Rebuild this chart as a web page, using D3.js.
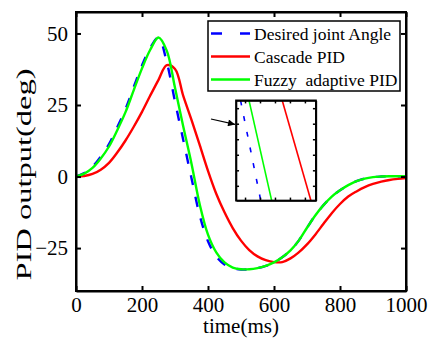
<!DOCTYPE html>
<meta charset="utf-8">
<style>
  body { margin: 0; background: #fff; }
  svg text { font-family: "Liberation Serif", "Times New Roman", serif; fill: #000; }
  .axis path, .axis line { stroke: #000; stroke-width: 2; }
  .inset path, .inset line { stroke: #000; stroke-width: 1.5; }
</style>
<svg width="430" height="343"></svg>
<script src="https://d3js.org/d3.v7.min.js"></script>
<script>

// sample times (ms)
var time = [0, 25, 50, 75, 100, 125, 150, 175, 200, 225, 250, 275, 300, 325, 350, 375, 400,
    425, 450, 475, 500, 525, 550, 575, 600, 625, 650, 675, 700, 725, 750, 775, 800,
    825, 850, 875, 900, 925, 950, 975, 1000];

// desired joint angle (deg)
var desired = [0, 1.2, 3.4, 7.0, 11.3, 17.2, 23.6, 31.3, 38.8, 45.0, 48.6, 40.0, 26.2, 12.8, -0.6, -13.6, -22.6,
    -27.9, -30.7, -32.0, -32.5, -32.4, -32.0, -31.2, -30.0, -28.2, -25.8, -22.4, -17.9, -13.6, -10.0, -7.0, -4.8,
    -3.0, -1.6, -0.7, -0.2, 0.0, 0.1, 0.1, 0.1];

// cascade PID output (deg)
var cascade = [0, 0.2, 0.9, 2.4, 4.8, 8.4, 12.6, 17.4, 22.6, 28.3, 33.8, 38.9, 37.6, 28.2, 19.8, 11.0, 2.0,
    -6.0, -12.5, -18.0, -22.4, -25.7, -27.9, -29.2, -29.9, -29.9, -28.6, -26.5, -23.7, -20.3, -16.5, -12.8, -9.6,
    -7.0, -5.2, -3.7, -2.6, -1.8, -1.2, -0.8, -0.5];

// fuzzy adaptive PID output (deg)
var fuzzy = [0, 1.0, 3.0, 6.3, 10.5, 16.2, 22.5, 30.2, 37.8, 44.3, 48.6, 44.0, 31.0, 17.5, 4.5, -9.8, -20.3,
    -26.5, -30.0, -31.8, -32.4, -32.4, -32.0, -31.2, -30.0, -28.2, -25.8, -22.4, -17.9, -13.6, -10.0, -7.0, -4.8,
    -3.0, -1.6, -0.7, -0.2, 0.0, 0.1, 0.1, 0.1];

var xTicks = [0, 200, 400, 600, 800, 1000];
var yTicks = [-25, 0, 25, 50];
var legendLabels = ["Desired joint Angle", "Cascade PID", "Fuzzy  adaptive PID"];

// zoomed view (inset): end points of each line
var insetDesired = [[334, 5], [361, -7.9]];
var insetCascade = [[389.7, 5], [428, -7.9]];
var insetFuzzy = [[345.3, 5], [375.6, -7.9]];
var insetXTicks = [340, 360, 380, 400, 420];
var insetYTicks = [-6, -4, -2, 0, 2, 4];
var insetBox = { t0: 485, t1: 727, v0: -8.4, v1: 26.6 };
var arrowFrom = [409, 20.1], arrowTo = [482, 18.2];

var svg = d3.select("svg"),
    margin = {top: 12, right: 24, bottom: 52, left: 76},
    width = +svg.attr("width") - margin.left - margin.right,
    height = +svg.attr("height") - margin.top - margin.bottom,
    g = svg.append("g").attr("transform", "translate(" + margin.left + "," + margin.top + ")");

var x = d3.scaleLinear().domain([0, 1000]).range([0, width]);
var y = d3.scaleLinear().domain([-40, 57.5]).range([height, 0]);

var colors = ["#0000ff", "#ff0000", "#00ff00"];

function series(vals) {
    return time.map(function (t, i) { return [t, vals[i]]; });
}

var line = d3.line()
    .x(function (d) { return x(d[0]); })
    .y(function (d) { return y(d[1]); })
    .curve(d3.curveCatmullRom.alpha(0.5));

g.append("defs").append("clipPath").attr("id", "clip")
    .append("rect").attr("width", width).attr("height", height);

var plot = g.append("g").attr("clip-path", "url(#clip)");

plot.append("path").datum(series(cascade))
    .attr("fill", "none").attr("stroke", colors[1]).attr("stroke-width", 2.4)
    .attr("d", line);
plot.append("path").datum(series(desired))
    .attr("fill", "none").attr("stroke", colors[0]).attr("stroke-width", 2.4)
    .attr("stroke-dasharray", "10,12")
    .attr("d", line);
plot.append("path").datum(series(fuzzy))
    .attr("fill", "none").attr("stroke", colors[2]).attr("stroke-width", 2.4)
    .attr("d", line);

// axes, ticks pointing inward
var gx = g.append("g").attr("class", "axis").attr("transform", "translate(0," + height + ")")
    .call(d3.axisBottom(x).tickValues(xTicks).tickFormat(d3.format("d"))
        .tickSize(-5).tickPadding(6).tickSizeOuter(0));
g.append("g").attr("class", "axis")
    .call(d3.axisTop(x).tickValues(xTicks).tickSize(-5).tickFormat("").tickSizeOuter(0));
var gy = g.append("g").attr("class", "axis")
    .call(d3.axisLeft(y).tickValues(yTicks).tickSize(-5).tickPadding(8).tickSizeOuter(0));
g.append("g").attr("class", "axis").attr("transform", "translate(" + width + ",0)")
    .call(d3.axisRight(y).tickValues(yTicks).tickSize(-5).tickFormat("").tickSizeOuter(0));

g.selectAll(".axis").attr("font-family", null);
gx.selectAll("text").style("font-size", "21px");
gy.selectAll("text").style("font-size", "21px");
g.selectAll(".axis .tick line").attr("stroke-width", 1.2);

g.append("rect")
    .attr("width", width).attr("height", height)
    .attr("fill", "none").attr("stroke", "#000").attr("stroke-width", 2);

// axis titles
g.append("text")
    .attr("x", width / 2).attr("y", height + 42)
    .attr("text-anchor", "middle")
    .style("font-size", "21px")
    .text("time(ms)");

svg.append("text")
    .attr("transform", "translate(31," + (margin.top + y(0) - 2) + ") rotate(-90) scale(1,0.72)")
    .attr("text-anchor", "middle")
    .style("font-size", "28px")
    .attr("textLength", 212).attr("lengthAdjust", "spacingAndGlyphs")
    .text("PID output(deg)");

// legend
var legend = svg.append("g").attr("transform", "translate(208,21)");
legend.append("rect")
    .attr("width", 192).attr("height", 70)
    .attr("fill", "#fff").attr("stroke", "#000").attr("stroke-width", 1.5);
legendLabels.forEach(function (name, i) {
    var row = legend.append("g").attr("transform", "translate(0," + (12.5 + i * 23) + ")");
    row.append("line")
        .attr("x1", 3).attr("x2", 42)
        .attr("stroke", colors[i]).attr("stroke-width", 2.4)
        .attr("stroke-dasharray", i === 0 ? "11,18" : null);
    row.append("text")
        .attr("x", 46).attr("dy", "0.35em")
        .style("font-size", "17.5px")
        .style("white-space", "pre")
        .text(name);
});

// inset: zoom on the falling part
var bx0 = x(insetBox.t0), bx1 = x(insetBox.t1), by0 = y(insetBox.v1), by1 = y(insetBox.v0);
var inset = g.append("g").attr("transform", "translate(" + bx0 + "," + by0 + ")");
var iw = bx1 - bx0, ih = by1 - by0;
var ix = d3.scaleLinear().domain([328, 434.7]).range([0, iw]);
var iy = d3.scaleLinear().domain([-7.9, 5]).range([ih, 0]);

inset.append("rect").attr("width", iw).attr("height", ih).attr("fill", "#fff");
inset.append("clipPath").attr("id", "iclip")
    .append("rect").attr("width", iw).attr("height", ih);

var iline = d3.line()
    .x(function (d) { return ix(d[0]); })
    .y(function (d) { return iy(d[1]); });
var ilines = inset.append("g").attr("clip-path", "url(#iclip)");
[insetDesired, insetCascade, insetFuzzy].forEach(function (d, i) {
    ilines.append("path").datum(d)
        .attr("fill", "none").attr("stroke", colors[i]).attr("stroke-width", 1.6)
        .attr("stroke-dasharray", i === 0 ? "5,11" : null)
        .attr("d", iline);
});

inset.append("g").attr("class", "inset").attr("transform", "translate(0," + ih + ")")
    .call(d3.axisBottom(ix).tickValues(insetXTicks).tickSize(-3).tickFormat("").tickSizeOuter(0));
inset.append("g").attr("class", "inset")
    .call(d3.axisTop(ix).tickValues(insetXTicks).tickSize(-3).tickFormat("").tickSizeOuter(0));
inset.append("g").attr("class", "inset")
    .call(d3.axisLeft(iy).tickValues(insetYTicks).tickSize(-3).tickFormat("").tickSizeOuter(0));
inset.append("g").attr("class", "inset").attr("transform", "translate(" + iw + ",0)")
    .call(d3.axisRight(iy).tickValues(insetYTicks).tickSize(-3).tickFormat("").tickSizeOuter(0));
inset.selectAll(".tick line").attr("stroke-width", 1);
inset.append("rect").attr("width", iw).attr("height", ih)
    .attr("fill", "none").attr("stroke", "#000").attr("stroke-width", 1.8);

// arrow pointing at the inset
svg.append("defs").append("marker")
    .attr("id", "arrow").attr("viewBox", "0 0 10 10")
    .attr("refX", 10).attr("refY", 5)
    .attr("markerWidth", 10).attr("markerHeight", 7)
    .attr("markerUnits", "userSpaceOnUse")
    .attr("orient", "auto")
    .append("path").attr("d", "M0,0L10,5L0,10z").attr("fill", "#000");

g.append("line")
    .attr("x1", x(arrowFrom[0])).attr("y1", y(arrowFrom[1]))
    .attr("x2", x(arrowTo[0])).attr("y2", y(arrowTo[1]))
    .attr("stroke", "#000").attr("stroke-width", 1.2)
    .attr("marker-end", "url(#arrow)");

</script>
